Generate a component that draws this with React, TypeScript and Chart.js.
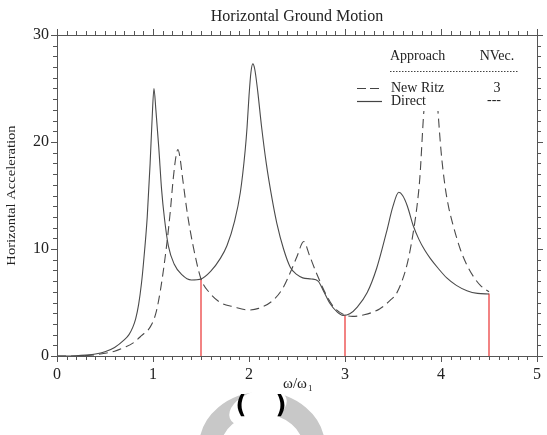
import React, { useEffect, useRef } from "react";
import { Chart, registerables } from "chart.js";

Chart.register(...registerables);

// ---- data ----
const directX = [0, 0.1, 0.2, 0.3, 0.4, 0.5, 0.6, 0.7, 0.75, 0.79, 0.82, 0.85, 0.88, 0.9, 0.94, 0.97, 0.99, 1.01, 1.03, 1.06, 1.09, 1.12, 1.16, 1.22, 1.3, 1.4, 1.5, 1.6, 1.7, 1.77, 1.85, 1.91, 1.96, 1.98, 2.0, 2.02, 2.04, 2.06, 2.09, 2.13, 2.18, 2.24, 2.29, 2.36, 2.43, 2.5, 2.56, 2.65, 2.72, 2.78, 2.84, 2.92, 2.98, 3.05, 3.13, 3.23, 3.33, 3.43, 3.5, 3.56, 3.6, 3.65, 3.71, 3.77, 3.83, 3.89, 3.97, 4.06, 4.16, 4.27, 4.38, 4.5];
const directY = [0, 0, 0.02, 0.08, 0.18, 0.4, 0.8, 1.5, 2.0, 2.7, 3.5, 4.8, 6.8, 8.6, 13.0, 18.0, 22.0, 25, 23, 19.5, 15.5, 12.8, 10.3, 8.6, 7.6, 7.1, 7.2, 7.9, 9.1, 10.3, 12.6, 15.3, 19.2, 21.4, 24.3, 26.5, 27.3, 26.8, 24.8, 21.5, 18.0, 14.7, 12.4, 10.0, 8.3, 7.6, 7.3, 7.2, 7.0, 6.0, 4.95, 4.1, 3.8, 3.95, 4.6, 5.9, 8.2, 11.5, 14.0, 15.3, 15.0, 14.0, 12.2, 10.9, 9.9, 9.1, 8.2, 7.3, 6.6, 6.1, 5.85, 5.8];

const ritzX = [0, 0.2, 0.3, 0.4, 0.5, 0.6, 0.7, 0.79, 0.88, 0.97, 1.03, 1.08, 1.14, 1.18, 1.21, 1.24, 1.26, 1.28, 1.31, 1.36, 1.42, 1.5, 1.59, 1.7, 1.84, 2.0, 2.1, 2.25, 2.35, 2.43, 2.5, 2.57, 2.63, 2.7, 2.8, 2.88, 2.98, 3.08, 3.2, 3.36, 3.47, 3.54, 3.63, 3.67, 3.71, 3.75, 3.78, 3.82, 3.86, 3.9, 3.94, 3.97, 4.0, 4.04, 4.08, 4.13, 4.2, 4.27, 4.34, 4.41, 4.5];
const ritzY = [0, 0, 0.05, 0.12, 0.25, 0.45, 0.8, 1.2, 1.9, 2.7, 4.0, 6.3, 10.2, 13.5, 16.5, 18.7, 19.3, 18.6, 16.5, 13.2, 10.2, 7.2, 5.9, 5.0, 4.6, 4.3, 4.45, 5.2, 6.3, 7.8, 9.3, 10.7, 9.4, 7.8, 5.8, 4.6, 3.9, 3.7, 3.85, 4.4, 5.2, 5.9, 8.0, 9.5, 11.5, 14.0, 16.7, 22.7, 26.5, 27.5, 26.5, 22.7, 19.2, 16.0, 13.9, 12.1, 10.0, 8.5, 7.4, 6.6, 6.0];

const markerX = [1.5, 3, 4.5];
const markerY = [7.2, 3.8, 5.85];

const xTickValues = [0, 1, 2, 3, 4, 5];
const yTickValues = [0, 10, 20, 30];

const chartTitle = "Horizontal Ground Motion";
const yAxisTitle = "Horizontal Acceleration";
const legendHeaders = ["Approach", "NVec."];
const legendLabels = ["New Ritz", "Direct"];
const legendNVec = ["3", "---"];

const SERIF = '"Liberation Serif", "Times New Roman", serif';

const decorPlugin = {
  id: "decor",
  afterDatasetsDraw(chart: any) {
    const { ctx, chartArea } = chart;
    const xs = chart.scales.x;
    const ys = chart.scales.y;
    const { left, right, top, bottom } = chartArea;
    ctx.save();

    // legend box (white, covers lines)
    ctx.fillStyle = "#ffffff";
    ctx.fillRect(352, top + 1, right - 353, 110 - top);

    // frame
    ctx.strokeStyle = "#555";
    ctx.lineWidth = 1;
    ctx.strokeRect(Math.round(left) + 0.5, Math.round(top) + 0.5, Math.round(right - left), Math.round(bottom - top));

    // ticks (outside)
    ctx.beginPath();
    for (let i = 0; i <= 50; i++) {
      const v = i / 10;
      const px = Math.round(xs.getPixelForValue(v)) + 0.5;
      const len = i % 10 === 0 ? 6 : 4;
      ctx.moveTo(px, bottom);
      ctx.lineTo(px, bottom + len);
      ctx.moveTo(px, top);
      ctx.lineTo(px, top - len);
    }
    for (let j = 0; j <= 30; j++) {
      const py = Math.round(ys.getPixelForValue(j)) + 0.5;
      const len = j % 10 === 0 ? 6 : 4;
      ctx.moveTo(left, py);
      ctx.lineTo(left - len, py);
      ctx.moveTo(right, py);
      ctx.lineTo(right + len, py);
    }
    ctx.stroke();

    // tick labels
    ctx.fillStyle = "#222";
    ctx.font = `16px ${SERIF}`;
    ctx.textAlign = "center";
    ctx.textBaseline = "middle";
    xTickValues.forEach((v) => {
      ctx.fillText(String(v), xs.getPixelForValue(v), bottom + 19);
    });
    ctx.textAlign = "right";
    yTickValues.forEach((v) => {
      ctx.fillText(String(v), left - 8, ys.getPixelForValue(v));
    });

    // title
    ctx.textAlign = "center";
    ctx.font = `16px ${SERIF}`;
    ctx.fillText(chartTitle, (left + right) / 2, 17);

    // y axis title
    ctx.save();
    ctx.translate(12, (top + bottom) / 2);
    ctx.rotate(-Math.PI / 2);
    ctx.scale(1.12, 1);
    ctx.font = `13px ${SERIF}`;
    ctx.fillText(yAxisTitle, 0, 0);
    ctx.restore();

    // x axis title  ω/ω1
    ctx.font = `15px ${SERIF}`;
    ctx.textAlign = "left";
    const xt = "ω/ω";
    const xw = ctx.measureText(xt).width;
    const xc = xs.getPixelForValue(2.5);
    ctx.fillText(xt, xc - xw / 2 - 2, bottom + 28);
    ctx.font = `9px ${SERIF}`;
    ctx.fillText("1", xc + xw / 2 - 1, bottom + 33);

    // legend
    ctx.font = `14px ${SERIF}`;
    ctx.textAlign = "left";
    ctx.fillStyle = "#222";
    ctx.fillText(legendHeaders[0], 390, 56);
    ctx.textAlign = "center";
    ctx.fillText(legendHeaders[1], 497, 56);
    ctx.strokeStyle = "#444";
    ctx.lineWidth = 1;
    ctx.setLineDash([1.5, 1.5]);
    ctx.beginPath();
    ctx.moveTo(390, 71.5);
    ctx.lineTo(518, 71.5);
    ctx.stroke();
    ctx.lineWidth = 1.2;
    ctx.setLineDash([9, 4]);
    ctx.beginPath();
    ctx.moveTo(357, 88.5);
    ctx.lineTo(382, 88.5);
    ctx.stroke();
    ctx.setLineDash([]);
    ctx.beginPath();
    ctx.moveTo(357, 101.5);
    ctx.lineTo(382, 101.5);
    ctx.stroke();
    ctx.textAlign = "left";
    ctx.fillText(legendLabels[0], 391, 88);
    ctx.fillText(legendLabels[1], 391, 101);
    ctx.textAlign = "center";
    ctx.fillText(legendNVec[0], 497, 88);
    ctx.fillText(legendNVec[1], 494, 100);

    // watermark arch + caption
    ctx.strokeStyle = "#c8c8c8";
    ctx.lineWidth = 22;
    ctx.beginPath();
    ctx.ellipse(262, 447, 52, 44, 0, Math.PI, 2 * Math.PI);
    ctx.stroke();
    ctx.fillStyle = "#ffffff";
    ctx.beginPath();
    ctx.ellipse(258, 408, 30, 17, -0.35, 0, 2 * Math.PI);
    ctx.fill();
    ctx.fillStyle = "#000";
    ctx.font = `bold 24px "DejaVu Sans", sans-serif`;
    ctx.textAlign = "center";
    ctx.textBaseline = "middle";
    ctx.fillText("(", 241, 407);
    ctx.fillText(")", 281, 407);

    ctx.restore();
  },
};

export default function App() {
  const ref = useRef<HTMLCanvasElement>(null);
  useEffect(() => {
    const pts = (xs: number[], ys: number[]) => xs.map((x, i) => ({ x, y: ys[i] }));
    const datasets: any[] = [
      {
        label: "Direct",
        data: pts(directX, directY),
        borderColor: "#4a4a4a",
        borderWidth: 1.1,
        pointRadius: 0,
        showLine: true,
        cubicInterpolationMode: "monotone",
        order: 1,
      },
      {
        label: "New Ritz",
        data: pts(ritzX, ritzY),
        borderColor: "#4a4a4a",
        borderWidth: 1.1,
        borderDash: [9, 5],
        pointRadius: 0,
        showLine: true,
        cubicInterpolationMode: "monotone",
        order: 2,
      },
      ...markerX.map((x, i) => ({
        label: "marker" + i,
        data: [
          { x, y: 0 },
          { x, y: markerY[i] },
        ],
        borderColor: "#ee5a5a",
        borderWidth: 1.5,
        pointRadius: 0,
        showLine: true,
        order: 3,
      })),
    ];
    const chart = new Chart(ref.current as HTMLCanvasElement, {
      type: "scatter",
      data: { datasets },
      options: {
        animation: false,
        responsive: true,
        maintainAspectRatio: false,
        layout: { padding: { left: 57, top: 35, right: 10, bottom: 79 } },
        scales: {
          x: { type: "linear", min: 0, max: 5, display: false },
          y: { type: "linear", min: 0, max: 30, display: false },
        },
        plugins: {
          legend: { display: false },
          tooltip: { enabled: false },
        },
      },
      plugins: [decorPlugin],
    });
    return () => chart.destroy();
  }, []);
  return (
    <div style={{ position: "fixed", left: 0, top: 0, width: 547, height: 435, background: "#fff" }}>
      <canvas ref={ref} />
    </div>
  );
}
